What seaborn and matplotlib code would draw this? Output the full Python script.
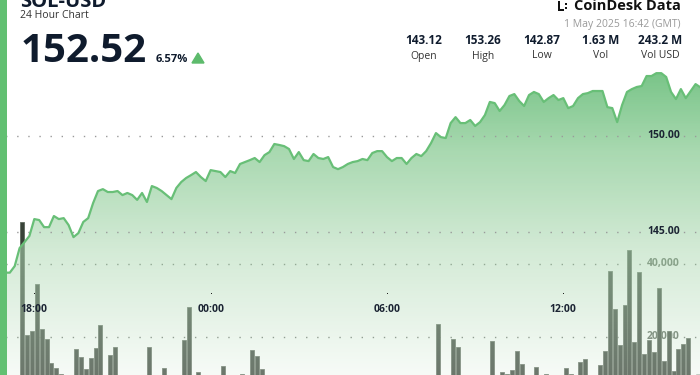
import numpy as np
import pandas as pd
import matplotlib
matplotlib.use("Agg")
import matplotlib.pyplot as plt
from matplotlib.patches import Polygon, Rectangle
import seaborn as sns

sns.set_theme(style="white")
plt.rcParams["font.family"] = ["Open Sans", "DejaVu Sans"]

# === datos ===
# precio cada 10 min, desde 17:00 del 30 abr
price = [
    142.87, 142.87, 143.21, 144.15, 144.46, 144.78, 145.66, 145.61, 145.24, 145.24,
    145.82, 145.66, 145.71, 145.35, 144.72, 144.93, 145.51, 145.71, 146.49, 147.12,
    147.22, 147.07, 147.07, 147.12, 146.91, 147.02, 146.91, 146.66, 147.02, 146.55,
    147.38, 147.28, 147.12, 146.91, 146.70, 147.28, 147.59, 147.80, 147.95, 148.11,
    147.85, 147.64, 148.21, 148.16, 148.11, 147.85, 148.16, 148.06, 148.53, 148.63,
    148.73, 148.84, 148.63, 148.99, 149.15, 149.57, 149.52, 149.46, 149.31, 148.79,
    149.15, 148.73, 148.68, 149.05, 148.84, 148.79, 148.89, 148.37, 148.26, 148.37,
    148.53, 148.63, 148.68, 148.79, 148.73, 149.10, 149.20, 149.20, 148.89, 148.68,
    148.84, 148.84, 148.53, 148.84, 149.05, 148.94, 149.20, 149.62, 150.14, 149.93,
    149.88, 150.66, 150.97, 150.66, 150.66, 150.82, 150.51, 150.71, 151.08, 151.76,
    151.70, 151.29, 151.60, 152.07, 152.17, 151.81, 151.55, 152.12, 152.28, 152.17,
    151.76, 151.96, 152.12, 151.86, 151.96, 151.44, 151.55, 151.96, 152.17, 152.22,
    152.33, 152.33, 152.33, 151.49, 151.44, 150.71, 151.60, 152.28, 152.43, 152.54,
    152.59, 153.11, 153.11, 153.26, 153.26, 153.06, 152.28, 151.91, 152.43, 151.96,
    152.33, 152.69, 152.52,
]
# volumen por barra de 10 min, desde 17:30
volume = [
    51300, 20500, 21600, 34400, 22100, 19400, 12700, 11300, 9800, 8000,
    7000, 16600, 14400, 11200, 14300, 16800, 23100, 8500, 15000, 17100,
    7000, 6500, 8000, 7500, 6000, 8000, 17100, 7000, 8500, 11300,
    6000, 7000, 8000, 19000, 28200, 8500, 10300, 7000, 6500, 8000,
    7500, 11900, 8000, 6000, 7000, 9800, 8000, 16400, 14700, 11200,
    6000, 5500, 7000, 6500, 5000, 6000, 7500, 5500, 6000, 7000,
    5000, 6500, 7000, 6000, 5500, 6500, 7000, 8000, 6000, 5500,
    6500, 7000, 6000, 7500, 8000, 6500, 7000, 6000, 7500, 8000,
    7000, 6500, 8000, 7500, 8500, 23500, 8000, 7000, 19300, 17100,
    6000, 7000, 5000, 6500, 7000, 8000, 18700, 7000, 10300, 9800,
    10900, 16100, 12500, 8000, 7000, 11800, 8000, 9800, 7000, 6000,
    8000, 11300, 9800, 8500, 13100, 13800, 8000, 9000, 12200, 16000,
    38000, 27700, 17800, 28700, 43800, 18600, 37700, 15300, 19200, 15700,
    33400, 13300, 21600, 10600, 16600, 18100, 19600, 8000, 9800,
]
price_start = "2025-04-30 17:00"
volume_start = "2025-04-30 17:35"
time_ticks = [18, 24, 30, 36]
time_labels = ["18:00", "00:00", "06:00", "12:00"]
price_grid = [150, 145]
price_grid_labels = ["150.00", "145.00"]
volume_grid = [40000, 20000]
volume_grid_labels = ["40,000", "20,000"]
stat_values = ["143.12", "153.26", "142.87", "1.63 M", "243.2 M"]
stat_names = ["Open", "High", "Low", "Vol", "Vol USD"]

day0 = pd.Timestamp("2025-04-30")
price_hours = np.asarray((pd.date_range(price_start, periods=len(price), freq="10min") - day0) / pd.Timedelta(hours=1))
vol_hours = np.asarray((pd.date_range(volume_start, periods=len(volume), freq="10min") - day0) / pd.Timedelta(hours=1))

W, H = 700, 375
XLIM = (16.833, 40.651)
PLIM = (137.54, 157.07)
VLIM = (9507, 112246)

fig = plt.figure(figsize=(7, 3.75), dpi=100)
ax_vol = fig.add_axes([0, 0, 1, 1])
ax_price = ax_vol.twinx()

# === barras de volumen (debajo del relleno) ===
sns.barplot(x=vol_hours, y=volume, native_scale=True, width=0.82, color="#394339",
            saturation=1, edgecolor="#5f6a5d", linewidth=0.6, errorbar=None, ax=ax_vol)
for p in ax_vol.patches:
    p.set_zorder(2)
ax_vol.patches[-1].set_alpha(0.35)

for v, lab in zip(volume_grid, volume_grid_labels):
    ax_vol.axhline(v, color="#6f746f", lw=1, ls=(4, (1, 7)), zorder=0.5)
    ax_vol.text(680 / W, v, lab, transform=ax_vol.get_yaxis_transform(), ha="right",
                va="center", fontsize=7.5, fontweight="bold", color="#5a6459", zorder=1)

# === relleno con degradado ===
stops_y = [70, 150, 250, 375]
stops_r = [(0.47, 0.77, 0.53), (0.66, 0.85, 0.69), (0.83, 0.92, 0.84), (0.97, 0.985, 0.97)]
stops_a = [0.95, 0.78, 0.55, 0.30]
rows = np.arange(H)
alpha = np.interp(rows, stops_y, stops_a)
grad = np.zeros((H, 2, 4))
for c in range(3):
    res = np.interp(rows, stops_y, [s[c] for s in stops_r])
    grad[:, :, c] = np.clip((res - (1 - alpha)) / alpha, 0, 1)[:, None]
grad[:, :, 3] = alpha[:, None]

poly = ax_price.fill_between(price_hours, price, 130, color="none", lw=0)
clip = poly.get_paths()[0]
im = ax_price.imshow(grad, extent=(XLIM[0], XLIM[1], PLIM[0], PLIM[1]), origin="upper",
                     aspect="auto", zorder=1, interpolation="bilinear")
im.set_clip_path(clip, transform=ax_price.transData)

sns.lineplot(x=price_hours, y=price, color="#68bf77", linewidth=1.6, ax=ax_price, zorder=4)

for p, lab in zip(price_grid, price_grid_labels):
    ax_price.axhline(p, color="#9a9a9a", lw=1, ls=(4, (1, 7)), zorder=3)
    ax_price.text(680 / W, p, lab, transform=ax_price.get_yaxis_transform(), ha="right",
                  va="center", fontsize=7.5, fontweight="bold", color="#1b2433", zorder=5)

tr = ax_price.get_xaxis_transform()
for t, lab in zip(time_ticks, time_labels):
    ax_price.text(t, 1 - 310 / H, lab, transform=tr, ha="center", va="center",
                  fontsize=7.5, fontweight="bold", color="#1b2433", zorder=5)
ax_price.plot(time_ticks, [1 - 293 / H] * len(time_ticks), transform=tr, ls="none",
              marker="s", ms=0.7, mew=0, color="#222222", zorder=5)

for a in (ax_vol, ax_price):
    a.set_xlim(*XLIM)
    a.axis("off")
ax_vol.set_ylim(*VLIM)
ax_price.set_ylim(*PLIM)

# === cabecera ===
def fx(px):
    return px / W

def fy(py):
    return 1 - py / H

fig.text(fx(20), fy(7), "SOL-USD", fontsize=14.5, fontweight="bold", color="#0f1b2d", va="baseline")
fig.text(fx(20), fy(16), "24 Hour Chart", fontsize=7.5, color="#333333", va="center")
fig.text(fx(21), fy(62), "152.52", fontsize=29, fontweight="bold", color="#0f1b2d", va="baseline")
fig.text(fx(156), fy(62), "6.57%", fontsize=8, fontweight="bold", color="#0f1b2d", va="baseline")
fig.add_artist(Polygon([(fx(192), fy(63)), (fx(204), fy(63)), (fx(198), fy(53))],
                       closed=True, transform=fig.transFigure, color="#5dbb6c"))

fig.text(fx(681), fy(6.5), "CoinDesk Data", fontsize=10.5, fontweight="bold", color="#111111",
         ha="right", va="center")
for (x0, y0, w, h) in [(558, 1, 2, 10), (558, 9, 6, 2), (565, 3, 2, 2), (565, 7, 2, 2)]:
    fig.add_artist(Rectangle((fx(x0), fy(y0 + h)), w / W, h / H, transform=fig.transFigure,
                             color="#111111", lw=0))
fig.text(fx(681), fy(24), "1 May 2025 16:42 (GMT)", fontsize=7.5, color="#9a9a9a",
         ha="right", va="center")

for cx, val, name in zip([424, 483, 542, 601, 660], stat_values, stat_names):
    fig.text(fx(cx), fy(41), val, fontsize=8.5, fontweight="bold", color="#0f1b2d",
             ha="center", va="center")
    fig.text(fx(cx), fy(56), name, fontsize=7.5, color="#333333", ha="center", va="center")

fig.add_artist(Rectangle((0, 0), 7 / W, 1, transform=fig.transFigure, color="#62c072", lw=0, zorder=10))

fig.savefig("out.png", dpi=100)
